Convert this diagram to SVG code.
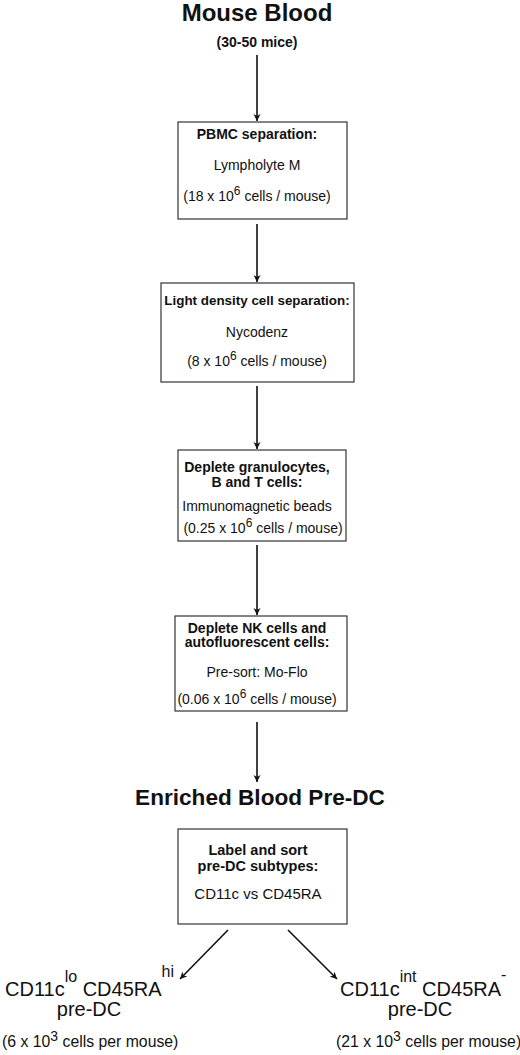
<svg xmlns="http://www.w3.org/2000/svg" width="520" height="1055" viewBox="0 0 520 1055">
<style>
text{font-family:"Liberation Sans",Arial,sans-serif;fill:#111;}
.t{font-size:24px;font-weight:bold;text-anchor:middle;}
.b{font-size:14px;font-weight:bold;text-anchor:middle;}
.r{font-size:14px;text-anchor:middle;}
.l{font-size:20px;}
.s{font-size:15.8px;}
.box{fill:#fff;stroke:#333;stroke-width:1.2;}
.c{stroke:#111;stroke-width:1.6;fill:none;marker-end:url(#ah);}
</style>
<defs>
<marker id="ah" viewBox="0 0 10 10" refX="10" refY="5" markerWidth="7" markerHeight="8" markerUnits="userSpaceOnUse" orient="auto">
<path d="M0,0 L10,5 L0,10 L3,5 Z" fill="#111"/>
</marker>
</defs>
<rect width="520" height="1055" fill="#fff"/>
<g id="connectors">
<line class="c" x1="257" y1="55" x2="257" y2="121"/>
<line class="c" x1="257" y1="224" x2="257" y2="282"/>
<line class="c" x1="257" y1="386" x2="257" y2="449"/>
<line class="c" x1="257" y1="545" x2="257" y2="615"/>
<line class="c" x1="257" y1="722" x2="257" y2="782"/>
<line class="c" x1="228" y1="930" x2="180" y2="979"/>
<line class="c" x1="288" y1="930" x2="337" y2="979"/>
</g>
<g id="title">
<text class="t" x="257" y="21">Mouse Blood</text>
<text class="b" x="257" y="47">(30-50 mice)</text>
</g>
<g id="pbmc">
<rect class="box" x="178" y="122" width="169" height="97"/>
<text class="b" x="257" y="139">PBMC separation:</text>
<text class="r" x="257" y="170">Lympholyte M</text>
<text class="r" x="257" y="201">(18 x 10<tspan dy="-6" font-size="12">6</tspan><tspan dy="6"> cells / mouse)</tspan></text>
</g>
<g id="light-density">
<rect class="box" x="161" y="283" width="193" height="99"/>
<text class="b" x="257" y="305" style="font-size:13.4px">Light density cell separation:</text>
<text class="r" x="257" y="337">Nycodenz</text>
<text class="r" x="257" y="366">(8 x 10<tspan dy="-6" font-size="12">6</tspan><tspan dy="6"> cells / mouse)</tspan></text>
</g>
<g id="deplete-gran">
<rect class="box" x="178" y="450" width="168" height="91"/>
<text class="b" x="257" y="472">Deplete granulocytes,</text>
<text class="b" x="257" y="487">B and T cells:</text>
<text class="r" x="257" y="511">Immunomagnetic beads</text>
<text class="r" x="263" y="533">(0.25 x 10<tspan dy="-6" font-size="12">6</tspan><tspan dy="6"> cells / mouse)</tspan></text>
</g>
<g id="deplete-nk">
<rect class="box" x="175" y="616" width="172" height="95"/>
<text class="b" x="257" y="633">Deplete NK cells and</text>
<text class="b" x="257" y="647">autofluorescent cells:</text>
<text class="r" x="257" y="677">Pre-sort: Mo-Flo</text>
<text class="r" x="257" y="704">(0.06 x 10<tspan dy="-6" font-size="12">6</tspan><tspan dy="6"> cells / mouse)</tspan></text>
</g>
<g id="enriched">
<text class="t" x="260" y="805" style="font-size:22.6px">Enriched Blood Pre-DC</text>
</g>
<g id="label-sort">
<rect class="box" x="178" y="829" width="169" height="95"/>
<text class="b" x="258" y="855" style="font-size:14.5px">Label and sort</text>
<text class="b" x="258" y="871" style="font-size:14.5px">pre-DC subtypes:</text>
<text class="r" x="258" y="899" style="font-size:15px">CD11c vs CD45RA</text>
</g>
<g id="lo-hi">
<text class="l" x="5" y="996">CD11c<tspan dy="-14" font-size="16">lo</tspan><tspan dy="14"> CD45RA</tspan><tspan dy="-19" font-size="16">hi</tspan></text>
<text class="l" x="89" y="1016" text-anchor="middle">pre-DC</text>
<text class="s" x="2" y="1047">(6 x 10<tspan dy="-6" font-size="14">3</tspan><tspan dy="6"> cells per mouse)</tspan></text>
</g>
<g id="int-neg">
<text class="l" x="340" y="996">CD11c<tspan dy="-14" font-size="16">int</tspan><tspan dy="14"> CD45RA</tspan><tspan dy="-16" font-size="16">-</tspan></text>
<text class="l" x="420" y="1016" text-anchor="middle">pre-DC</text>
<text class="s" x="336" y="1047">(21 x 10<tspan dy="-6" font-size="14">3</tspan><tspan dy="6"> cells per mouse)</tspan></text>
</g>
</svg>
